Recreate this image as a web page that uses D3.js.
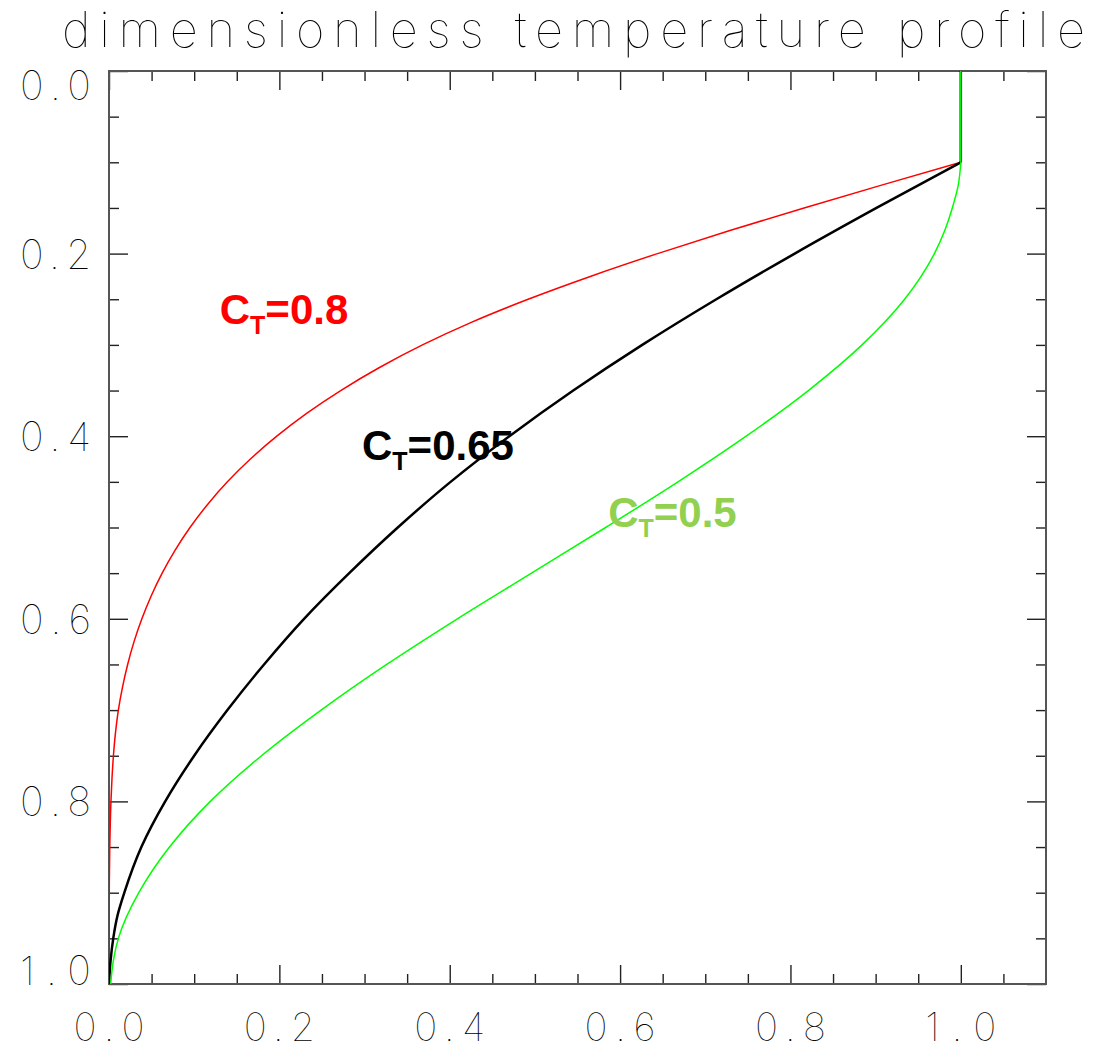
<!DOCTYPE html>
<html>
<head>
<meta charset="utf-8">
<script src="https://cdn.jsdelivr.net/npm/d3@7"></script>
<style>
  body { margin: 0; background: #fff; }
  svg { display: block; }
</style>
</head>
<body>
<svg id="chart" width="1096" height="1050"></svg>
<script>
// ---- chart text and ticks ----
const titleText = "dimensionless temperature profile";
const xMajorTicks = [0.0, 0.2, 0.4, 0.6, 0.8, 1.0];
const xTickLabels = ["0.0", "0.2", "0.4", "0.6", "0.8", "1.0"];
const yMajorTicks = [0.0, 0.2, 0.4, 0.6, 0.8, 1.0];
const yTickLabels = ["0.0", "0.2", "0.4", "0.6", "0.8", "1.0"];
const xMinorTicks = [0.05, 0.1, 0.15, 0.25, 0.3, 0.35, 0.45, 0.5, 0.55, 0.65, 0.7, 0.75, 0.85, 0.9, 0.95, 1.05];
const yMinorTicks = [0.05, 0.1, 0.15, 0.25, 0.3, 0.35, 0.45, 0.5, 0.55, 0.65, 0.7, 0.75, 0.85, 0.9, 0.95];

// ---- profiles: dimensionless temperature vs depth ----
const depthCT080 = [0.0, 0.1, 0.125, 0.15, 0.175, 0.2, 0.225, 0.25, 0.275, 0.3, 0.325, 0.35, 0.375, 0.4, 0.425, 0.45, 0.475, 0.5, 0.525, 0.55, 0.575, 0.6, 0.625, 0.65, 0.675, 0.7, 0.725, 0.75, 0.775, 0.8, 0.85, 0.9, 0.95, 1.0];
const tempCT080  = [1.0, 1.0, 0.907, 0.816, 0.728, 0.644, 0.565, 0.492, 0.426, 0.368, 0.317, 0.272, 0.232, 0.197, 0.166, 0.139, 0.1155, 0.0951, 0.0775, 0.0624, 0.0495, 0.0386, 0.0294, 0.0219, 0.0158, 0.0110, 0.0076, 0.0052, 0.0035, 0.0023, 0.0009, 0.0003, 0.0001, 0.0];

const depthCT065 = [0.0, 0.1, 0.15, 0.2, 0.25, 0.3, 0.35, 0.4, 0.45, 0.5, 0.55, 0.6, 0.65, 0.7, 0.75, 0.8, 0.85, 0.9, 0.925, 0.95, 0.975, 1.0];
const tempCT065  = [1.0, 1.0, 0.901, 0.805, 0.713, 0.626, 0.545, 0.470, 0.401, 0.339, 0.282, 0.229, 0.182, 0.139, 0.100, 0.066, 0.038, 0.018, 0.010, 0.005, 0.0018, 0.0];

const depthCT050 = [0.0, 0.1, 0.125, 0.15, 0.175, 0.2, 0.25, 0.3, 0.35, 0.4, 0.45, 0.5, 0.55, 0.6, 0.65, 0.7, 0.75, 0.8, 0.85, 0.9, 0.95, 0.975, 1.0];
const tempCT050  = [1.0, 1.0, 0.997, 0.990, 0.981, 0.969, 0.934, 0.884, 0.821, 0.748, 0.668, 0.583, 0.496, 0.409, 0.326, 0.249, 0.179, 0.119, 0.071, 0.035, 0.011, 0.005, 0.002];

const seriesNames  = ["0.8", "0.65", "0.5"];
const seriesColors = ["#ff0000", "#000000", "#00ff00"];
const labelColors  = ["#ff0000", "#000000", "#92d050"];
const lineWidths   = [1.5, 2.5, 1.5];
// label anchors in data units (temperature, depth)
const labelTemp  = [0.130, 0.297, 0.586];
const labelDepth = [0.277, 0.426, 0.499];

const series = [
  { depth: depthCT080, temp: tempCT080 },
  { depth: depthCT065, temp: tempCT065 },
  { depth: depthCT050, temp: tempCT050 }
].map((s, i) => ({
  name: seriesNames[i],
  color: seriesColors[i],
  labelColor: labelColors[i],
  width: lineWidths[i],
  points: s.depth.map((d, j) => ({ depth: d, temp: s.temp[j] }))
}));

// ---- layout ----
const plot = { left: 109, right: 1046, top: 71, bottom: 984 };
const x = d3.scaleLinear().domain([0, 1.1]).range([plot.left, plot.right]);
const y = d3.scaleLinear().domain([0, 1.0]).range([plot.top, plot.bottom]);

const svg = d3.select("#chart");
const thinFont = "Inter, 'DejaVu Sans', sans-serif";

// title
svg.append("text")
  .attr("x", 62).attr("y", 47)
  .attr("textLength", 1023).attr("lengthAdjust", "spacing")
  .style("font-family", thinFont).style("font-weight", 100)
  .style("font-size", "49px").attr("fill", "#000")
  .text(titleText);

// clip for the curves
svg.append("defs").append("clipPath").attr("id", "plotClip")
  .append("rect")
  .attr("x", plot.left).attr("y", plot.top)
  .attr("width", plot.right - plot.left).attr("height", plot.bottom - plot.top);

// ---- axes: inward ticks on all four sides ----
const majorLen = 19, minorLen = 10;
function tickAxis(gen, scale, values, len, transform) {
  const g = svg.append("g").attr("transform", transform)
    .call(gen(scale).tickValues(values).tickSize(-len).tickSizeOuter(0).tickFormat(""));
  g.select(".domain").remove();
  g.selectAll(".tick line").attr("stroke", "#222").attr("stroke-width", 1.4);
  return g;
}
tickAxis(d3.axisBottom, x, xMajorTicks, majorLen, `translate(0,${plot.bottom})`);
tickAxis(d3.axisBottom, x, xMinorTicks, minorLen, `translate(0,${plot.bottom})`);
tickAxis(d3.axisTop, x, xMajorTicks, majorLen, `translate(0,${plot.top})`);
tickAxis(d3.axisTop, x, xMinorTicks, minorLen, `translate(0,${plot.top})`);
tickAxis(d3.axisLeft, y, yMajorTicks, majorLen, `translate(${plot.left},0)`);
tickAxis(d3.axisLeft, y, yMinorTicks, minorLen, `translate(${plot.left},0)`);
tickAxis(d3.axisRight, y, yMajorTicks, majorLen, `translate(${plot.right},0)`);
tickAxis(d3.axisRight, y, yMinorTicks, minorLen, `translate(${plot.right},0)`);

// frame
svg.append("rect")
  .attr("x", plot.left).attr("y", plot.top)
  .attr("width", plot.right - plot.left).attr("height", plot.bottom - plot.top)
  .attr("fill", "none").attr("stroke", "#555").attr("stroke-width", 2);

// x tick labels
svg.append("g").selectAll("text").data(xMajorTicks).join("text")
  .attr("x", d => x(d)).attr("y", plot.bottom + 57)
  .attr("text-anchor", "middle")
  .attr("textLength", 71).attr("lengthAdjust", "spacing")
  .style("font-family", thinFont).style("font-weight", 100)
  .style("font-size", "39px").attr("fill", "#000")
  .text((d, i) => xTickLabels[i]);

// y tick labels, kept inside the vertical extent of the frame
const labelHalf = 14;
svg.append("g").selectAll("text").data(yMajorTicks).join("text")
  .attr("x", plot.left - 89).attr("y", d => Math.min(Math.max(y(d), plot.top + labelHalf), plot.bottom - labelHalf) + 15)
  .attr("textLength", 71).attr("lengthAdjust", "spacing")
  .style("font-family", thinFont).style("font-weight", 100)
  .style("font-size", "40px").attr("fill", "#000")
  .text((d, i) => yTickLabels[i]);

// ---- curves ----
const curveLine = d3.line().x(d => x(d.temp)).y(d => y(d.depth)).curve(d3.curveMonotoneY);
const straightLine = d3.line().x(d => x(d.temp)).y(d => y(d.depth));
const lines = svg.append("g").attr("clip-path", "url(#plotClip)");
series.forEach(s => {
  // isothermal top layer
  lines.append("path").attr("d", straightLine(s.points.slice(0, 2)))
    .attr("fill", "none").attr("stroke", s.color).attr("stroke-width", s.width);
  // profile below the top layer
  lines.append("path").attr("d", curveLine(s.points.slice(1)))
    .attr("fill", "none").attr("stroke", s.color).attr("stroke-width", s.width)
    .attr("stroke-linejoin", "round");
});

// ---- curve labels: C_T = value ----
series.forEach((s, i) => {
  const t = svg.append("text")
    .attr("x", x(labelTemp[i])).attr("y", y(labelDepth[i]))
    .style("font-family", "'Liberation Sans', Arial, sans-serif")
    .style("font-weight", "bold").style("font-size", "42px")
    .attr("fill", s.labelColor);
  t.append("tspan").text("C");
  t.append("tspan").attr("dy", 10).style("font-size", "25px").text("T");
  t.append("tspan").attr("dy", -10).text("=" + s.name);
});
</script>
</body>
</html>
